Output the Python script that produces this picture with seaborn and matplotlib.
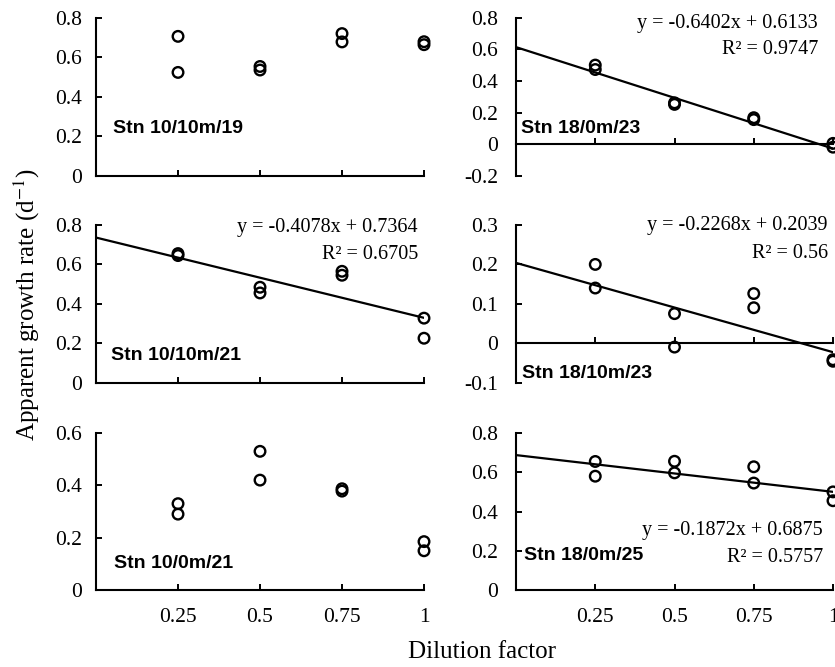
import numpy as np
import pandas as pd
import matplotlib
matplotlib.use("Agg")
import matplotlib.pyplot as plt
import seaborn as sns

# ---------------- data ----------------
dilution = [0.25, 0.25, 0.5, 0.5, 0.75, 0.75, 1.0, 1.0]

stations = ["Stn 10/10m/19", "Stn 18/0m/23", "Stn 10/10m/21",
            "Stn 18/10m/23", "Stn 10/0m/21", "Stn 18/0m/25"]

rate_10_10m_19 = [0.705, 0.523, 0.553, 0.535, 0.719, 0.677, 0.678, 0.663]
rate_18_0m_23 = [0.500, 0.472, 0.262, 0.252, 0.168, 0.156, 0.006, -0.018]
rate_10_10m_21 = [0.655, 0.645, 0.484, 0.455, 0.565, 0.545, 0.327, 0.225]
rate_18_10m_23 = [0.200, 0.140, 0.075, -0.010, 0.126, 0.090, -0.042, -0.046]
rate_10_0m_21 = [0.330, 0.290, 0.530, 0.420, 0.387, 0.378, 0.185, 0.150]
rate_18_0m_25 = [0.655, 0.580, 0.656, 0.597, 0.628, 0.545, 0.500, 0.455]

rates = [rate_10_10m_19, rate_18_0m_23, rate_10_10m_21,
         rate_18_10m_23, rate_10_0m_21, rate_18_0m_25]

# regression equations (None = no fit shown)
slopes = [None, -0.6402, -0.4078, -0.2268, None, -0.1872]
intercepts = [None, 0.6133, 0.7364, 0.2039, None, 0.6875]
r2_values = [None, "0.9747", "0.6705", "0.56", None, "0.5757"]

y_limits = [(0, 0.8), (-0.2, 0.8), (0, 0.8), (-0.1, 0.3), (0, 0.6), (0, 0.8)]
y_steps = [0.2, 0.2, 0.2, 0.1, 0.2, 0.2]
x_ticks = [0.25, 0.5, 0.75, 1.0]
x_tick_labels = ["0.25", "0.5", "0.75", "1"]

# ---------------- style ----------------
sns.set_theme(style="ticks")
plt.rcParams["font.family"] = ["Liberation Serif", "DejaVu Serif"]
plt.rcParams["mathtext.fontset"] = "stix"
plt.rcParams["text.color"] = "black"
plt.rcParams["axes.labelcolor"] = "black"
plt.rcParams["xtick.color"] = "black"
plt.rcParams["ytick.color"] = "black"

fig = plt.figure(figsize=(8.35, 6.67), dpi=100)

col_left = [0.1150, 0.6180]
col_width = [0.3928, 0.3796]
row_bottom = [0.7361, 0.4265, 0.1154]
row_height = [0.2376, 0.2361, 0.2354]

# text placement (axes fraction)
stn_pos = [(0.052, 0.303), (0.016, 0.303), (0.046, 0.172),
           (0.019, 0.057), (0.055, 0.172), (0.025, 0.217)]
eq_pos = [None, (0.953, 0.965, 0.80), (0.982, 0.987, 0.815),
          (0.984, 1.0, 0.82), None, (0.968, 0.382, 0.21)]

for i in range(6):
    r, c = divmod(i, 2)
    ax = fig.add_axes([col_left[c], row_bottom[r], col_width[c], row_height[r]])
    df = pd.DataFrame({"dilution": dilution, "rate": rates[i]})

    if slopes[i] is not None:
        line_df = pd.DataFrame({"x": [0.0, 1.0]})
        line_df["y"] = slopes[i] * line_df["x"] + intercepts[i]
        sns.lineplot(data=line_df, x="x", y="y", ax=ax, color="black",
                     linewidth=1.6, zorder=2)

    sns.scatterplot(data=df, x="dilution", y="rate", ax=ax, marker="o", s=58,
                    facecolor="none", edgecolor="black", linewidth=1.7,
                    color="black", clip_on=False, zorder=3)

    lo, hi = y_limits[i]
    ax.set_xlim(0, 1)
    ax.set_ylim(lo, hi)
    ax.set_yticks(np.round(np.arange(lo, hi + 1e-9, y_steps[i]), 2))
    ax.yaxis.set_major_formatter(matplotlib.ticker.FuncFormatter(
        lambda v, p: "0" if abs(v) < 1e-9 else f"{v:g}"))
    ax.set_xticks(x_ticks)
    if r == 2:
        ax.set_xticklabels(x_tick_labels)
    else:
        ax.set_xticklabels([])
    ax.set_xlabel("")
    ax.set_ylabel("")

    for side in ["top", "right"]:
        ax.spines[side].set_visible(False)
    for side in ["left", "bottom"]:
        ax.spines[side].set_linewidth(1.5)
        ax.spines[side].set_color("black")
    if lo < 0:
        ax.spines["bottom"].set_position(("data", 0))

    ax.tick_params(axis="both", direction="in", length=4, width=1.4,
                   color="black", labelsize=15.5, labelcolor="black")
    ax.tick_params(axis="y", pad=10 if c == 0 else 13)
    ax.tick_params(axis="x", pad=13)

    sx, sy = stn_pos[i]
    ax.text(sx, sy, stations[i], transform=ax.transAxes, ha="left", va="center",
            fontsize=14, fontweight="bold", color="black",
            family=["Liberation Sans", "DejaVu Sans"])

    if eq_pos[i] is not None:
        ex, ey1, ey2 = eq_pos[i]
        ax.text(ex, ey1, f"y = {slopes[i]:.4f}x + {intercepts[i]:.4f}",
                transform=ax.transAxes, ha="right", va="center",
                fontsize=14.5, color="black")
        ax.text(ex, ey2, f"R\u00b2 = {r2_values[i]}",
                transform=ax.transAxes, ha="right", va="center",
                fontsize=14.5, color="black")

fig.text(0.032, 0.543, r"Apparent growth rate (d$^{-1}$)", rotation=90,
         ha="center", va="center", fontsize=18, color="black")
fig.text(0.577, 0.022, "Dilution factor", ha="center", va="center",
         fontsize=18, color="black")

fig.savefig("out.png", dpi=100)
